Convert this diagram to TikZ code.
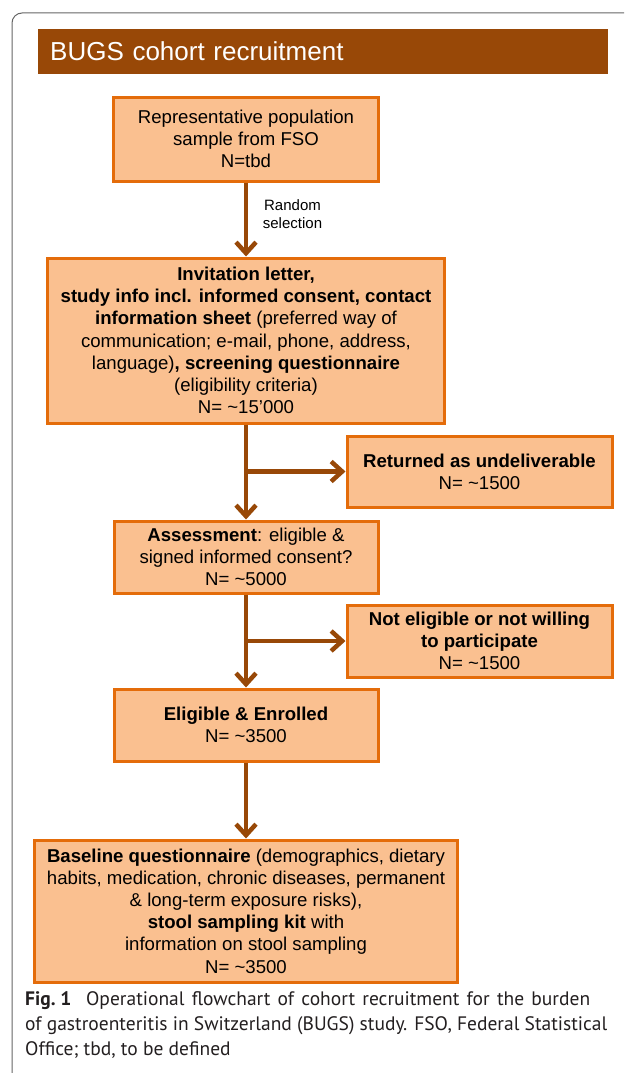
\documentclass[tikz,border=0pt]{standalone}
\usepackage{fontspec}
\setmainfont{Liberation Sans}
\newfontfamily\capfont{PT Sans}
\usetikzlibrary{arrows.meta}
\definecolor{boxfill}{HTML}{FAC090}
\definecolor{boxline}{HTML}{E46C0A}
\definecolor{brownc}{HTML}{984807}
\definecolor{framec}{HTML}{666666}
\definecolor{captext}{HTML}{231F20}
\newcommand\bxfont{\fontsize{18.6}{22.2}\selectfont}
\begin{document}
\begin{tikzpicture}[x=1pt,y=-1pt,
  box/.style={draw=boxline, fill=boxfill, line width=3pt, align=center, inner sep=2pt, font=\bxfont, text=black},
  arr/.style={draw=brownc, line width=4.5pt, -{Straight Barb[length=11pt,width=20pt]}},
  bar/.style={fill=brownc, text=white, inner xsep=12pt, inner ysep=0pt, minimum width=570pt, minimum height=45pt, text width=546pt, align=left, font=\fontsize{26}{30}\selectfont},
  lbl/.style={font=\fontsize{15}{17.5}\selectfont, align=center, inner sep=0pt}
]
\useasboundingbox (0,0) rectangle (624,1073);
% frame
\draw[framec, line width=1pt, rounded corners=10pt] (12,1073) -- (12,13) -- (624,13);
% title bar
\node[bar, anchor=north west] (title) at (38,29) {BUGS cohort recruitment};
% boxes
\node[box, minimum width=265pt, minimum height=84pt] (b1) at (246,139)
  {Representative population\\sample from FSO\\N=tbd};
\node[box, minimum width=397pt, minimum height=165pt] (b2) at (246,340.5)
  {\textbf{Invitation letter,}\\
   \textbf{study info incl. informed consent, contact}\\
   \textbf{information sheet} (preferred way of\\
   communication; e-mail, phone, address,\\
   language)\textbf{, screening questionnaire}\\
   (eligibility criteria)\\
   N= \textasciitilde15’000};
\node[box, minimum width=265pt, minimum height=71pt] (b3) at (479.5,471.5)
  {\textbf{Returned as undeliverable}\\N= \textasciitilde1500};
\node[box, minimum width=264pt, minimum height=72pt] (b4) at (246,557)
  {\textbf{Assessment}: eligible \&\\signed informed consent?\\N= \textasciitilde5000};
\node[box, minimum width=265pt, minimum height=72pt] (b5) at (479.5,641)
  {\textbf{Not eligible or not willing}\\\textbf{to participate}\\N= \textasciitilde1500};
\node[box, minimum width=264pt, minimum height=72pt] (b6) at (246,725)
  {\textbf{Eligible \& Enrolled}\\N= \textasciitilde3500};
\node[box, minimum width=423pt, minimum height=142pt] (b7) at (246,911)
  {\textbf{Baseline questionnaire} (demographics, dietary\\
   habits, medication, chronic diseases, permanent\\
   \& long-term exposure risks),\\
   \textbf{stool sampling kit} with\\
   information on stool sampling\\
   N= \textasciitilde3500};
% label
\node[lbl] (rs) at (292.5,214) {Random\\selection};
% connectors
\draw[arr] (b1.south) -- (b2.north);
\draw[arr] (b2.south) -- (b4.north);
\draw[arr] (b2.south |- b3.west) -- (b3.west);
\draw[arr] (b4.south) -- (b6.north);
\draw[arr] (b4.south |- b5.west) -- (b5.west);
\draw[arr] (b6.south) -- (b7.north);
% caption
\node[anchor=north west, inner sep=0pt, align=left, text=captext,
      font=\capfont\fontsize{19.5}{25}\selectfont] (cap) at (25,991)
  {\makebox[565pt][s]{\textbf{Fig.\hspace{0.25em}1}\hspace{0.75em}Operational flowchart of cohort recruitment for the burden}\\
   of gastroenteritis in Switzerland (BUGS) study. FSO, Federal Statistical\\
   Office; tbd, to be defined};
\end{tikzpicture}
\end{document}
